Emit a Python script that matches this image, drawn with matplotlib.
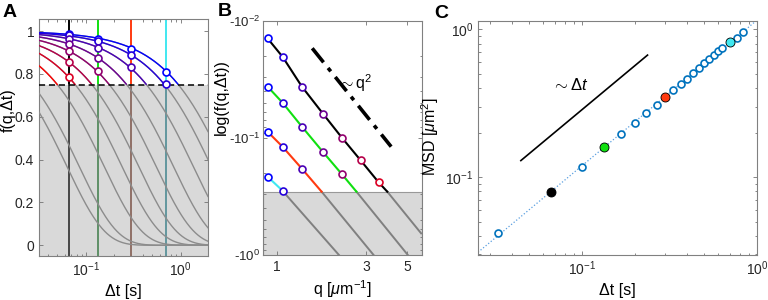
import numpy as np
import matplotlib
matplotlib.use("Agg")
import matplotlib.pyplot as plt
from matplotlib.ticker import FixedLocator, FuncFormatter, LogLocator, NullFormatter, NullLocator

plt.rcParams['font.family'] = ['Liberation Sans', 'DejaVu Sans']
plt.rcParams['mathtext.fontset'] = 'custom'
plt.rcParams['mathtext.rm'] = 'Liberation Sans'
plt.rcParams['mathtext.it'] = 'Liberation Sans:italic'
plt.rcParams['mathtext.bf'] = 'Liberation Sans:bold'

## ---------------------------------------------------------------
## data
## ---------------------------------------------------------------

f_threshold = 0.75

# lag times marked by the vertical lines in A and the filled dots in C
dt_marked = [0.0667, 0.1333, 0.30, 0.70]
msd_marked = [0.079, 0.160, 0.347, 0.821]
marked_colors = ['black', '#10e010', '#ff3a10', '#40e8f0']
marked_colors_dim = ['0.28', '#5e8f66', '#907066', '#62979e']

# q values of the curves in A; the first seven are the circles in B
q_curves = [0.89, 1.07, 1.36, 1.77, 2.23, 2.81, 3.51, 4.45, 6.2, 7.3]
n_colored = 8

# -log f(q, dt) at the circles in B, one list per marked lag time
logf_black = [0.0141, 0.0202, 0.0364, 0.0624, 0.0994, 0.155, 0.239]
logf_green = [0.0364, 0.0499, 0.080, 0.1325, 0.204]
logf_red = [0.0884, 0.1187, 0.183]
logf_cyan = [0.2143, 0.282]

# where each line in B leaves the white region, and where its grey part ends
q_cross = [3.91, 2.67, 1.735, 1.08]
q_end = [5.94, 5.04, 3.30, 2.15]
logf_end = [0.653, 1.0, 1.0, 1.0]

# MSD curve in C
dt_msd = [0.0333, 0.0667, 0.1, 0.1333, 0.1667, 0.2, 0.2333, 0.2667, 0.3, 0.3333,
          0.3667, 0.4, 0.4333, 0.4667, 0.5, 0.5333, 0.5667, 0.6, 0.6333, 0.7,
          0.7667, 0.8333]
msd = [0.0419, 0.079, 0.117, 0.160, 0.195, 0.232, 0.271, 0.31, 0.347, 0.391,
       0.43, 0.464, 0.507, 0.548, 0.592, 0.627, 0.67, 0.71, 0.752, 0.821,
       0.879, 0.954]

# guide lines
q2_guide_q = [1.545, 4.1]
q2_guide_y = [0.0171, 0.1186]
dt_guide_x = [0.0448, 0.237]
dt_guide_y = [0.1294, 0.67]

logf_lists = [logf_black, logf_green, logf_red, logf_cyan]
q_colors = [(i / 7, 0, 1 - i / 7) for i in range(n_colored)]
logf_thr = -np.log(f_threshold)

## ---------------------------------------------------------------
## figure
## ---------------------------------------------------------------

fig = plt.figure(figsize=(7.68, 3.0), dpi=100)
axA = fig.add_axes([0.0508, 0.1467, 0.220, 0.789])
axB = fig.add_axes([0.3424, 0.15, 0.207, 0.78])
axC = fig.add_axes([0.6224, 0.15, 0.3633, 0.78])

for ax in (axA, axB, axC):
    for s in ax.spines.values():
        s.set_color('0.5')
        s.set_linewidth(0.8)
    ax.tick_params(which='both', direction='in', top=True, right=True,
                   color='0.45', width=0.6, labelsize=10, labelcolor='0.15')
    ax.tick_params(which='major', length=3)
    ax.tick_params(which='minor', length=1.8)

## Panel A: f(q, dt) vs dt
# effective MSD(dt) from the circles in B (f = exp(-q^2 MSD / 4)), power-law fit
g_marked = [np.median(4 * np.array(v) / np.array(q_curves[:len(v)]) ** 2) for v in logf_lists]
p = np.polyfit(np.log10(dt_marked), np.log10(g_marked), 1)
dt_grid = np.geomspace(0.032, 1.95, 400)
g_grid = 10 ** np.polyval(p, np.log10(dt_grid))

axA.axhspan(-0.1, f_threshold, color='#d9d9d9', zorder=0, lw=0)
for t, c, cd in zip(dt_marked, marked_colors, marked_colors_dim):
    axA.plot([t, t], [f_threshold, 1.1], color=c, lw=1.4, zorder=2)
    axA.plot([t, t], [-0.1, f_threshold], color=cd, lw=1.4, zorder=2)

for i, q in enumerate(q_curves):
    f = np.exp(-q ** 2 * g_grid / 4)
    axA.plot(dt_grid, f, color='0.55', lw=1.0, zorder=3)
    if i < n_colored:
        fc = np.where(f >= f_threshold, f, np.nan)
        axA.plot(dt_grid, fc, color=q_colors[i], lw=1.0, zorder=4)

axA.axhline(f_threshold, color='black', lw=1.1, ls=(0, (4, 2.5)), zorder=5)

for t, vals in zip(dt_marked, logf_lists):
    for i, v in enumerate(vals):
        axA.plot(t, np.exp(-v), 'o', ms=5, mfc='white', mec=q_colors[i], mew=1.2, zorder=6)

axA.set_xscale('log')
axA.set_xlim(0.032, 1.95)
axA.set_ylim(-0.05, 1.055)
axA.set_yticks([0, 0.2, 0.4, 0.6, 0.8, 1])
axA.yaxis.set_major_formatter(FuncFormatter(lambda v, pos: '%g' % v))
axA.xaxis.set_major_locator(FixedLocator([0.1, 1]))
axA.set_xlabel('Δt [s]', fontsize=11.5, labelpad=3)
axA.set_ylabel('f(q,Δt)', fontsize=11.5)
axA.yaxis.set_label_coords(-0.136, 0.616)

## Panel B: -log f vs q
axB.axhspan(logf_thr, 2, facecolor='#d9d9d9', edgecolor='0.6', lw=0.8, zorder=0)
for j, vals in enumerate(logf_lists):
    qs = q_curves[:len(vals)]
    axB.plot(qs + [q_cross[j]], vals + [logf_thr], color=marked_colors[j], lw=1.5, zorder=3)
    axB.plot([q_cross[j], q_end[j]], [logf_thr, logf_end[j]], color='0.5', lw=1.4, zorder=2)
    for i, (qq, v) in enumerate(zip(qs, vals)):
        axB.plot(qq, v, 'o', ms=5, mfc='white', mec=q_colors[i], mew=1.2, zorder=5)

axB.plot(q2_guide_q, q2_guide_y, color='black', lw=2.6, ls=(0, (5, 2, 1.2, 2)))
axB.text(2.62, 0.034, r'$\sim$q$^2$', fontsize=11.5, ha='center', va='center')

axB.set_xscale('log')
axB.set_yscale('log')
axB.set_xlim(0.84, 6.0)
axB.set_ylim(1.0, 0.01)
axB.xaxis.set_major_locator(FixedLocator([1, 3, 5]))
axB.xaxis.set_major_formatter(FuncFormatter(lambda v, pos: '%g' % v))
axB.xaxis.set_minor_locator(NullLocator())
axB.yaxis.set_major_locator(FixedLocator([0.01, 0.1, 1]))
axB.yaxis.set_major_formatter(FuncFormatter(lambda v, pos: r'-10$^{%d}$' % round(np.log10(v))))
axB.yaxis.set_minor_locator(LogLocator(subs=np.arange(2, 10)))
axB.yaxis.set_minor_formatter(NullFormatter())
axB.tick_params(axis='y', labelsize=9.5, pad=2)
axB.set_xlabel(r'q [$\mu$m$^{-1}$]', fontsize=11.5, labelpad=3)
axB.set_ylabel('log(f(q,Δt))', fontsize=11.5)
axB.yaxis.set_label_coords(-0.214, 0.675)

## Panel C: MSD vs dt
xlimC = (0.0255, 1.0)
pc = np.polyfit(np.log10(dt_msd), np.log10(msd), 1)
axC.plot(xlimC, 10 ** np.polyval(pc, np.log10(xlimC)), ls=':', color='#5a9fe0', lw=0.9, zorder=1)
axC.plot(dt_msd, msd, 'o', ms=5, mfc='white', mec='#0072bd', mew=1.2, zorder=2)
for t, m, c in zip(dt_marked, msd_marked, marked_colors):
    axC.plot(t, m, 'o', ms=6.5, mfc=c, mec='black', mew=0.6, zorder=3)

axC.plot(dt_guide_x, dt_guide_y, color='black', lw=1.2)
axC.text(0.0861, 0.42, r'$\sim\Delta t$', fontsize=12, ha='center', va='center')

axC.set_xscale('log')
axC.set_yscale('log')
axC.set_xlim(*xlimC)
axC.set_ylim(0.0297, 1.14)
axC.set_xlabel('Δt [s]', fontsize=11.5, labelpad=3)
axC.set_ylabel(r'MSD [$\mu$m$^2$]', fontsize=11.5)
axC.yaxis.set_label_coords(-0.133, 0.504)

## panel letters
for x, y, s in [(0.013, 0.958, 'A'), (0.293, 0.962, 'B'), (0.574, 0.955, 'C')]:
    fig.text(x, y, s, fontsize=14, fontweight='bold', ha='center', va='center')

fig.savefig('out.png', dpi=100)
